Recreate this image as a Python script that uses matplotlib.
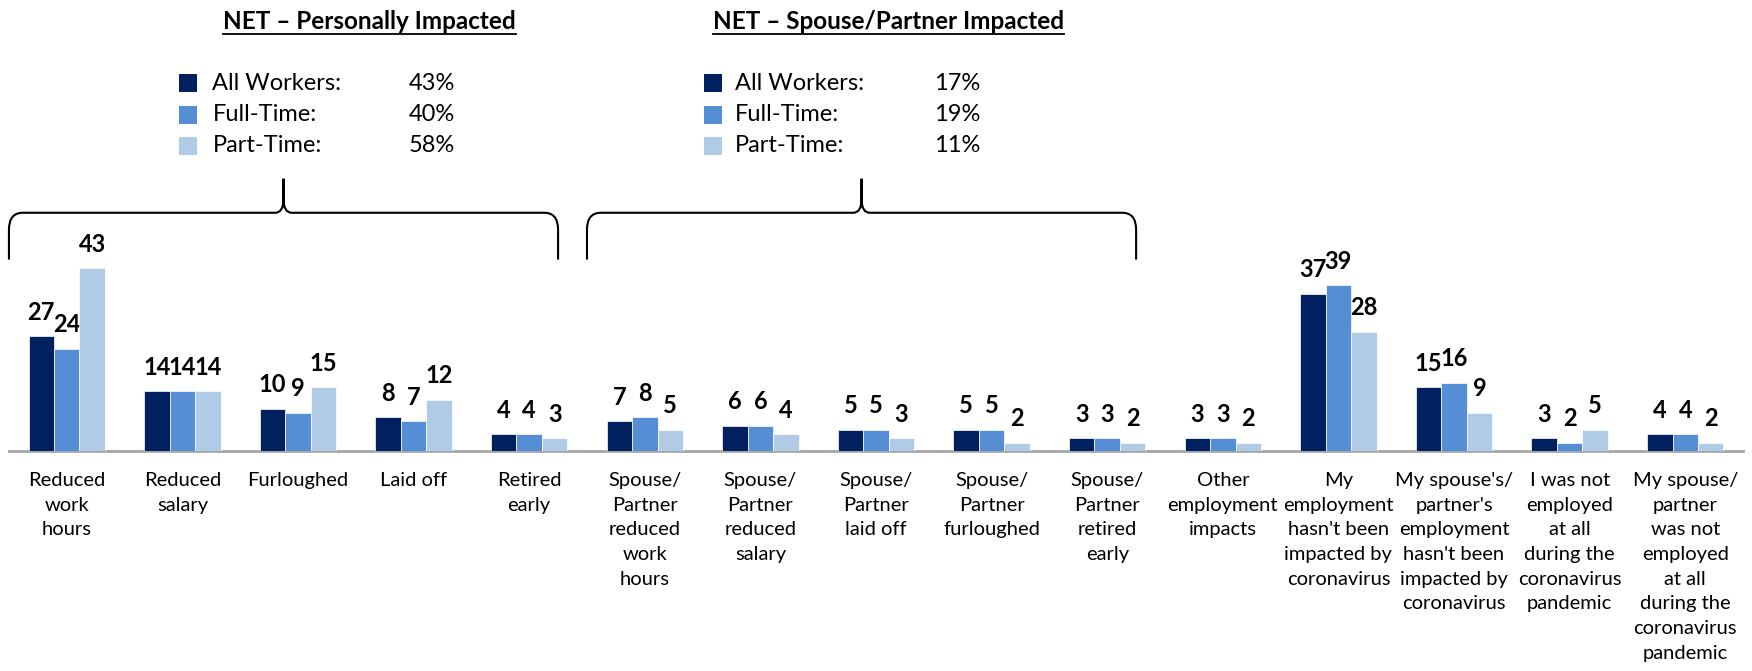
import matplotlib
matplotlib.use('Agg')
import matplotlib.pyplot as plt
import numpy as np
from matplotlib.patches import Rectangle, PathPatch
from matplotlib.path import Path

# ── Data ──────────────────────────────────────────────────────────────────────

CATEGORIES = [
    "Reduced\nwork\nhours",
    "Reduced\nsalary",
    "Furloughed",
    "Laid off",
    "Retired\nearly",
    "Spouse/\nPartner\nreduced\nwork\nhours",
    "Spouse/\nPartner\nreduced\nsalary",
    "Spouse/\nPartner\nlaid off",
    "Spouse/\nPartner\nfurloughed",
    "Spouse/\nPartner\nretired\nearly",
    "Other\nemployment\nimpacts",
    "My\nemployment\nhasn't been\nimpacted by\ncoronavirus",
    "My spouse's/\npartner's\nemployment\nhasn't been\nimpacted by\ncoronavirus",
    "I was not\nemployed\nat all\nduring the\ncoronavirus\npandemic",
    "My spouse/\npartner\nwas not\nemployed\nat all\nduring the\ncoronavirus\npandemic",
]
ALL_WORKERS = [27, 14, 10, 8, 4, 7, 6, 5, 5, 3, 3, 37, 15, 3, 4]
FULL_TIME = [24, 14, 9, 7, 4, 8, 6, 5, 5, 3, 3, 39, 16, 2, 4]
PART_TIME = [43, 14, 15, 12, 3, 5, 4, 3, 2, 2, 2, 28, 9, 5, 2]

SERIES_NAMES = ['All Workers:', 'Full-Time:', 'Part-Time:']
NET_PERSONAL = [43, 40, 58]
NET_SPOUSE = [17, 19, 11]
NET_TITLES = ['NET \u2013 Personally Impacted', 'NET \u2013 Spouse/Partner Impacted']

# ── Style ─────────────────────────────────────────────────────────────────────

COLORS = ['#002060', '#558ED5', '#B0CBE5']
FONT = ['Lato', 'DejaVu Sans']
plt.rcParams['font.family'] = FONT

fig = plt.figure(figsize=(17.52, 6.71), dpi=100)
W, H = 1568.0, 601.0   # layout measured on the shrunk reference
ax = fig.add_axes([8 / W, (H - 404) / H, (1560 - 8) / W, 404 / H])

x = np.arange(len(CATEGORIES))
bw = 0.22
for i, (vals, col) in enumerate(zip([ALL_WORKERS, FULL_TIME, PART_TIME], COLORS)):
    bars = ax.bar(x + (i - 1) * bw, vals, bw, color=col, edgecolor='white',
                  linewidth=0.5, zorder=3)
    for b, v in zip(bars, vals):
        ax.annotate(f'{v}', (b.get_x() + b.get_width() / 2, b.get_height()),
                    xytext=(0, 9), textcoords='offset points',
                    ha='center', va='bottom', fontsize=17, fontweight='bold',
                    color='black')

ax.set_xlim(-0.5, len(CATEGORIES) - 0.5)
ax.set_ylim(0, 106)
ax.set_xticks(x)
ax.set_xticklabels(CATEGORIES, fontsize=14.5, linespacing=1.55, va='top')
ax.tick_params(axis='x', length=0, pad=15)
ax.set_yticks([])
for s in ['top', 'right', 'left']:
    ax.spines[s].set_visible(False)
ax.spines['bottom'].set_color('#A6A6A6')
ax.spines['bottom'].set_linewidth(2)


# ── Braces ────────────────────────────────────────────────────────────────────

def brace(x0, x1, y_end, y_h, y_tip, rx=0.12, ry=4.0):
    xm = (x0 + x1) / 2
    verts = [
        (x0, y_end), (x0, y_h - ry),
        (x0, y_h), (x0 + rx, y_h),
        (xm - rx * 0.6, y_h),
        (xm, y_h), (xm, y_h + ry * 0.8),
        (xm, y_tip),
        (xm, y_h + ry * 0.8),
        (xm, y_h), (xm + rx * 0.6, y_h),
        (x1 - rx, y_h),
        (x1, y_h), (x1, y_h - ry),
        (x1, y_end),
    ]
    codes = [Path.MOVETO, Path.LINETO,
             Path.CURVE3, Path.CURVE3,
             Path.LINETO,
             Path.CURVE3, Path.CURVE3,
             Path.LINETO,
             Path.LINETO,
             Path.CURVE3, Path.CURVE3,
             Path.LINETO,
             Path.CURVE3, Path.CURVE3,
             Path.LINETO]
    ax.add_patch(PathPatch(Path(verts, codes), facecolor='none',
                           edgecolor='black', linewidth=1.5, clip_on=False,
                           zorder=5))


BRACE_GROUPS = [(0, 4), (5, 9)]
for g0, g1 in BRACE_GROUPS:
    brace(g0 - 0.5, g1 + 0.25, 45, 56, 64)

# ── NET legends ───────────────────────────────────────────────────────────────

title_x = [2.62, 7.11]
square_x = [0.97, 5.51]
label_x = [1.26, 5.78]
value_x = [2.96, 7.50]
row_y = [86.4, 79.0, 71.7]
sq_w, sq_h = 0.155, 4.2

fig.canvas.draw()
renderer = fig.canvas.get_renderer()
for k, nets in enumerate([NET_PERSONAL, NET_SPOUSE]):
    t = ax.text(title_x[k], 101, NET_TITLES[k], ha='center', va='center',
                fontsize=17.5, fontweight='bold')
    bb = t.get_window_extent(renderer).transformed(ax.transData.inverted())
    ax.plot([bb.x0, bb.x1], [bb.y0 - 0.3, bb.y0 - 0.3], color='black',
            linewidth=1.3, clip_on=False)
    for j in range(3):
        ax.add_patch(Rectangle((square_x[k], row_y[j] - sq_h / 2), sq_w, sq_h,
                               facecolor=COLORS[j], edgecolor='none',
                               clip_on=False))
        ax.text(label_x[k], row_y[j], SERIES_NAMES[j], ha='left',
                va='center', fontsize=17)
        ax.text(value_x[k], row_y[j], f'{nets[j]}%', ha='left',
                va='center', fontsize=17)

fig.savefig('out.png', dpi=100)
